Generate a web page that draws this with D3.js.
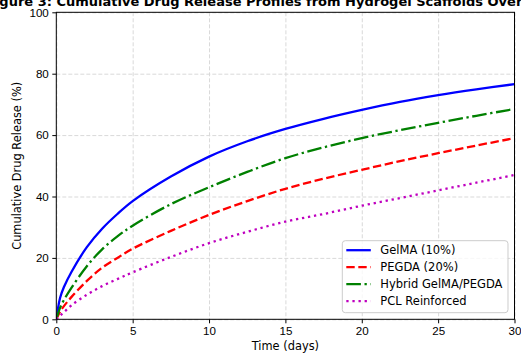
<!DOCTYPE html>
<html>
<head>
<meta charset="utf-8">
<script src="https://cdn.jsdelivr.net/npm/d3@7"></script>
<style>
  body { margin: 0; background: #fff; }
  svg { font-family: "DejaVu Sans", sans-serif; }
  .grid line { stroke: #d9d9d9; stroke-dasharray: 4,2; }
  .grid .domain { display: none; }
  .axis text { font-size: 11.6px; fill: #000; }
  .axis line, .axis path { stroke: #000; }
</style>
</head>
<body>
<svg id="chart" width="521" height="354"></svg>
<script>
// time points (days) and cumulative release (%)
const days     = [0, 0.25, 0.5, 1, 2, 3, 4, 5, 7.5, 10, 12.5, 15, 17.5, 20, 22.5, 25, 27.5, 30];
const gelma    = [0, 7, 10.5, 15.5, 23.5, 29.5, 34.3, 38.5, 46.5, 53, 58, 62, 65.3, 68.2, 70.8, 73, 74.9, 76.6];
const pegda    = [0, 2.5, 4.3, 7.3, 12.5, 16.8, 20, 23, 28.8, 34, 38.5, 42.5, 45.8, 48.7, 51.5, 54.1, 56.6, 59];
const hybrid   = [0, 3.8, 6.3, 10.3, 17.3, 22.8, 27, 30.5, 37.5, 43, 48, 52.5, 56, 59, 61.6, 64, 66.3, 68.5];
const pcl      = [0, 1.2, 2.3, 4.6, 8, 10.8, 13.1, 15.3, 20.3, 24.8, 28.5, 31.8, 34.3, 37, 39.5, 42, 44.5, 47];
const seriesNames = ["GelMA (10%)", "PEGDA (20%)", "Hybrid GelMA/PEGDA", "PCL Reinforced"];
const xTicks = [0, 5, 10, 15, 20, 25, 30];
const yTicks = [0, 20, 40, 60, 80, 100];

const series = [
    {name: seriesNames[0], vals: gelma,  color: "#0000ff", dash: null},
    {name: seriesNames[1], vals: pegda,  color: "#ff0000", dash: "8.4,3.6"},
    {name: seriesNames[2], vals: hybrid, color: "#008000", dash: "14.6,3.6,2.3,3.6"},
    {name: seriesNames[3], vals: pcl,    color: "#bf00bf", dash: "2.3,3.8"}
];

const margin = {top: 12.3, right: 6.5, bottom: 34.7, left: 56.3},
    width = 521 - margin.left - margin.right,
    height = 354 - margin.top - margin.bottom;

const svg = d3.select("#chart");

const xScale = d3.scaleLinear().domain([0, 30]).range([0, width]);
const yScale = d3.scaleLinear().domain([0, 100]).range([height, 0]);

const chart = svg.append("g")
    .attr("transform", `translate(${margin.left}, ${margin.top})`);

// gridlines
chart.append("g")
    .attr("class", "grid")
    .call(d3.axisBottom(xScale).tickValues(xTicks).tickFormat("").tickSize(height));
chart.append("g")
    .attr("class", "grid")
    .call(d3.axisLeft(yScale).tickValues(yTicks).tickFormat("").tickSize(-width));

chart.append("clipPath").attr("id", "clip")
    .append("rect").attr("width", width).attr("height", height);

const line = d3.line()
    .x((d, i) => xScale(days[i]))
    .y(d => yScale(d))
    .curve(d3.curveCatmullRom.alpha(0.5));

for (const s of series) {
    chart.append("path")
        .datum(s.vals)
        .attr("clip-path", "url(#clip)")
        .attr("fill", "none")
        .attr("stroke", s.color)
        .attr("stroke-width", 2.3)
        .attr("stroke-dasharray", s.dash)
        .attr("d", line);
}

// frame
chart.append("rect")
    .attr("width", width).attr("height", height)
    .attr("fill", "none").attr("stroke", "#000").attr("stroke-width", 1);

chart.append("g")
    .attr("class", "axis")
    .attr("transform", `translate(0, ${height})`)
    .call(d3.axisBottom(xScale).tickValues(xTicks).tickSize(4).tickPadding(3.5))
    .call(g => g.select(".domain").remove());

chart.append("g")
    .attr("class", "axis")
    .call(d3.axisLeft(yScale).tickValues(yTicks).tickSize(4).tickPadding(3.5))
    .call(g => g.select(".domain").remove());

// labels
svg.append("text")
    .attr("x", margin.left + width / 2)
    .attr("y", 350)
    .attr("text-anchor", "middle")
    .attr("font-size", "11.4px")
    .text("Time (days)");

svg.append("text")
    .attr("transform", `translate(21, ${margin.top + height / 2}) rotate(-90)`)
    .attr("text-anchor", "middle")
    .attr("font-size", "11.4px")
    .text("Cumulative Drug Release (%)");

svg.append("text")
    .attr("x", margin.left + width / 2)
    .attr("y", 5.5)
    .attr("text-anchor", "middle")
    .attr("font-size", "13px")
    .attr("font-weight", "bold")
    .text("Figure 3: Cumulative Drug Release Profiles from Hydrogel Scaffolds Over 30 Days");

// legend
const legend = chart.append("g")
    .attr("transform", `translate(${342.3 - margin.left}, ${240.7 - margin.top})`);

legend.append("rect")
    .attr("width", 165.7)
    .attr("height", 72)
    .attr("rx", 3)
    .attr("fill", "#fff")
    .attr("fill-opacity", 0.8)
    .attr("stroke", "#cccccc");

const item = legend.selectAll(".legend")
    .data(series)
    .enter().append("g")
    .attr("class", "legend")
    .attr("transform", (d, i) => `translate(0, ${9.5 + i * 17})`);

item.append("line")
    .attr("x1", 4).attr("x2", 28.5)
    .attr("stroke", d => d.color)
    .attr("stroke-width", 2.3)
    .attr("stroke-dasharray", d => d.dash);

item.append("text")
    .attr("x", 38)
    .attr("dy", ".35em")
    .attr("font-size", "11.5px")
    .text(d => d.name);
</script>
</body>
</html>
